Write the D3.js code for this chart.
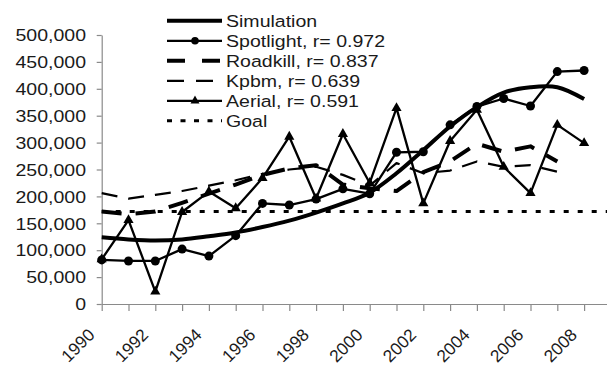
<!DOCTYPE html>
<html><head><meta charset="utf-8">
<script src="https://d3js.org/d3.v7.min.js"></script>
<style>body{margin:0;background:#fff}svg{display:block}</style>
</head><body>
<svg id="chart" width="607" height="365"></svg>
<script>
const years = [1990,1991,1992,1993,1994,1995,1996,1997,1998,1999,2000,2001,2002,2003,2004,2005,2006,2007,2008];
const simulation = [124000,120000,118000,120000,126000,133000,143000,155000,170000,187000,207000,243000,286000,330000,366000,393000,403000,403000,381000];
const spotlight = [82000,80000,80000,102000,89000,127000,187000,184000,195000,214000,205000,282000,283000,333000,367000,382000,368000,432000,434000];
const roadkill = [172000,167000,172000,188000,205000,222000,240000,252000,258000,222000,215000,210000,245000,265000,298000,283000,293000,265000,null];
const kpbm = [206000,196000,203000,210000,220000,230000,242000,250000,255000,240000,220000,262000,243000,248000,265000,255000,258000,246000,null];
const aerial = [83000,156000,23000,171000,209000,178000,234000,311000,196000,316000,225000,364000,187000,303000,361000,255000,206000,333000,299000];
const goalYears = [1990,2009];
const goal = [172000,172000];
const yTicks = [0,50000,100000,150000,200000,250000,300000,350000,400000,450000,500000];
const xLabelYears = [1990,1992,1994,1996,1998,2000,2002,2004,2006,2008];
const legendLabels = ["Simulation","Spotlight, r= 0.972","Roadkill, r= 0.837","Kpbm, r= 0.639","Aerial, r= 0.591","Goal"];

const svg = d3.select("#chart");
const x = d3.scaleLinear().domain([1990, 2009]).range([101.7, 101.7 + 19*26.8]);
const y = d3.scaleLinear().domain([0, 500000]).range([304, 35]);
const axisColor = "#8a8a8a";
const textColor = "#1a1a1a";
const font = "'Liberation Sans', Arial, sans-serif";
const sx = 1.13;

// Y axis
const gy = svg.append("g").attr("transform", `translate(${x(1990)},0)`)
  .call(d3.axisLeft(y).tickValues(yTicks).tickSize(5).tickSizeOuter(0).tickFormat(() => ""));
gy.selectAll("path,line").attr("stroke", axisColor).attr("stroke-width", 1.2);
svg.append("g").selectAll("text").data(yTicks).join("text")
  .attr("transform", d => `translate(86,${y(d)}) scale(${sx},1)`)
  .attr("dy", "0.36em").attr("text-anchor", "end")
  .attr("font-family", font).attr("font-size", 17.3).attr("fill", textColor)
  .text(d => d3.format(",")(d));

// X axis
const gx = svg.append("g").attr("transform", `translate(0,${y(0)})`)
  .call(d3.axisBottom(x).tickValues(years).tickSize(7).tickSizeOuter(0).tickFormat(() => ""));
gx.selectAll("path,line").attr("stroke", axisColor).attr("stroke-width", 1.2);
svg.append("g").selectAll("text").data(xLabelYears).join("text")
  .attr("transform", d => `translate(${x(d) - 6},336) rotate(-45)`)
  .attr("text-anchor", "end")
  .attr("font-family", font).attr("font-size", 17.3).attr("fill", textColor)
  .text(d => String(d));

const line = d3.line().defined(d => d[1] != null).x(d => x(d[0])).y(d => y(d[1]));
const pairs = arr => years.map((yr, i) => [yr, arr[i]]);

const series = [
  {data: pairs(kpbm), w: 2.2, dash: "16,11"},
  {data: pairs(roadkill), w: 4, dash: "20,14"},
  {data: goalYears.map((yr, i) => [yr, goal[i]]), w: 3, dash: "5,9"},
  {data: pairs(aerial), w: 2.3, dash: null},
  {data: pairs(spotlight), w: 2.3, dash: null},
];
series.forEach(s => {
  svg.append("path").datum(s.data).attr("d", line)
    .attr("fill", "none").attr("stroke", "#000").attr("stroke-width", s.w)
    .attr("stroke-dasharray", s.dash).attr("stroke-linejoin", "round");
});
svg.append("path").datum(pairs(simulation))
  .attr("d", d3.line().x(d => x(d[0])).y(d => y(d[1])).curve(d3.curveCatmullRom.alpha(0.5)))
  .attr("fill", "none").attr("stroke", "#000").attr("stroke-width", 4);

svg.append("g").selectAll("circle").data(pairs(spotlight)).join("circle")
  .attr("cx", d => x(d[0])).attr("cy", d => y(d[1])).attr("r", 4.5).attr("fill", "#000");
const tri = d3.symbol().type(d3.symbolTriangle).size(45);
svg.append("g").selectAll("path").data(pairs(aerial)).join("path")
  .attr("transform", d => `translate(${x(d[0])},${y(d[1])})`).attr("d", tri).attr("fill", "#000");

// Legend
const lg = svg.append("g");
const legStyles = [
  {w: 4, dash: null, mark: null},
  {w: 2.3, dash: null, mark: "circle"},
  {w: 4, dash: "18,17", mark: null},
  {w: 2.2, dash: "17,12", mark: null},
  {w: 2.3, dash: null, mark: "tri"},
  {w: 3, dash: "5,8.5", mark: null},
];
legendLabels.forEach((lab, i) => {
  const by = 27.3 + i * 20;
  const ly = by - 6.5;
  const st = legStyles[i];
  lg.append("line").attr("x1", 167).attr("x2", 222).attr("y1", ly).attr("y2", ly)
    .attr("stroke", "#000").attr("stroke-width", st.w).attr("stroke-dasharray", st.dash);
  if (st.mark === "circle") lg.append("circle").attr("cx", 195).attr("cy", ly).attr("r", 3.8);
  if (st.mark === "tri") lg.append("path").attr("transform", `translate(195,${ly})`).attr("d", d3.symbol().type(d3.symbolTriangle).size(35));
  lg.append("text").attr("x", 0).attr("y", 0)
    .attr("transform", `translate(226,${by}) scale(${sx},1)`)
    .attr("font-family", font).attr("font-size", 17.3).attr("fill", textColor).text(lab);
});
</script>
</body></html>
